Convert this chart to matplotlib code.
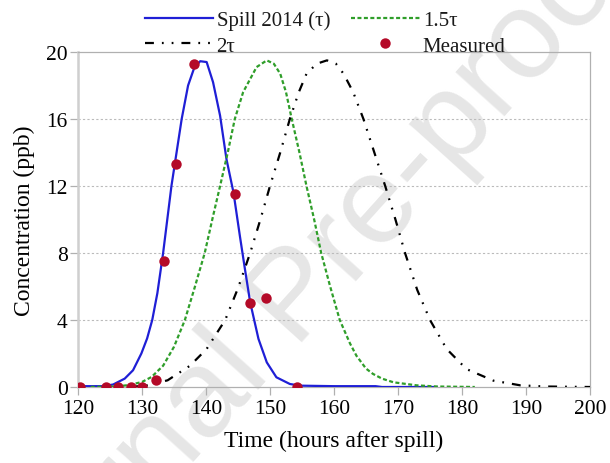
import matplotlib
matplotlib.use("Agg")
import matplotlib.pyplot as plt
from matplotlib.lines import Line2D

# ---- data ----
spill_t = [120, 124, 125.5, 127.3, 128.6, 129.9, 130.8, 131.6, 132.4, 133.3, 134.6, 135.4,
           136.2, 137.2, 138.2, 139.1, 140.1, 141.1, 142.2, 143.2, 144.3, 145.3, 146.1,
           146.9, 148.2, 149.5, 151.0, 153.1, 154.7, 160, 166.5, 167.5, 176]
spill_c = [0.05, 0.05, 0.15, 0.5, 1.0, 2.0, 2.9, 4.0, 5.6, 8.0, 12.0, 14.0,
           16.0, 18.0, 19.1, 19.45, 19.4, 18.2, 16.2, 13.6, 11.6, 9.0, 7.0,
           5.06, 2.87, 1.47, 0.58, 0.18, 0.08, 0.05, 0.05, 0.0, 0.0]

t15 = [122, 126, 128, 130, 131.5, 133.3, 135, 136.7, 138.2, 139.8, 141.1, 142.2, 143.4,
       144.5, 145.8, 147.9, 149.5, 150.6, 151.6, 152.5, 153.4, 154.6, 155.7, 156.9, 158.0,
       159.4, 160.9, 162.5, 163.5, 165, 166.1, 167.5, 169.3, 172.9, 176, 182]
c15 = [0, 0.03, 0.12, 0.3, 0.6, 1.27, 2.4, 4.0, 5.9, 8.0, 10.2, 12.0, 14.0,
       16.0, 17.6, 19.1, 19.5, 19.3, 18.7, 17.6, 16.0, 14.0, 12.0, 10.0, 8.0,
       6.0, 4.0, 2.6, 1.87, 1.1, 0.78, 0.5, 0.28, 0.1, 0.03, 0]

t2 = [128, 131, 134, 137.5, 140.1, 143.0, 145.0, 146.9, 148.5, 150.0, 151.6, 153.1, 154.5,
      155.7, 157.3, 158.9, 160.3, 161.5, 163, 164.6, 166.3, 168.0, 169.6, 171.1, 173.0,
      175.0, 177.6, 180.7, 184.9, 189.1, 193, 200]
c2 = [0, 0.1, 0.4, 1.27, 2.27, 4.0, 5.9, 8.0, 10.0, 12.0, 14.0, 16.0, 17.6,
      18.7, 19.3, 19.5, 19.3, 18.7, 17.6, 16.0, 14.0, 12.0, 10.0, 8.0, 5.8,
      4.0, 2.27, 1.07, 0.38, 0.1, 0.03, 0]

meas_t = [120.3, 124.4, 126.3, 128.3, 130.0, 132.2, 133.5, 135.3, 138.2, 144.6, 146.9, 149.4, 154.2]
meas_c = [0, 0, 0, 0, 0, 0.42, 7.5, 13.3, 19.3, 11.5, 5.0, 5.33, 0]

xticks = [120, 130, 140, 150, 160, 170, 180, 190, 200]
yticks = [0, 4, 8, 12, 16, 20]
labels = ["Spill 2014 (\u03c4)", "2\u03c4", "1.5\u03c4", "Measured"]

plt.rcParams['font.family'] = ['Liberation Serif', 'DejaVu Serif']
plt.rcParams['text.color'] = '#1a1a1a'

fig = plt.figure(figsize=(6.1, 4.64), dpi=100)
ax = fig.add_axes([78/610, 1 - 388/464, (590-78)/610, (388-53)/464])

# watermark
ax.text(0.487, 0.354, "Journal Pre-proof", transform=fig.transFigure, rotation=48,
        fontsize=90, family='Liberation Sans', color='#e6e6e6', ha='center', va='center',
        rotation_mode='anchor', clip_on=False, zorder=0.2)

blue = '#1f1fd6'
green = '#2f9e2a'
red = '#b40a28'

l1, = ax.plot(spill_t, spill_c, color=blue, lw=1.6, zorder=3)
l3, = ax.plot(t15, c15, color=green, lw=1.6, linestyle=(0, (1.8, 1.1)), zorder=3)
l2, = ax.plot(t2, c2, color='black', lw=1.6,
              linestyle=(0, (4.0, 3.6, 0.8, 3.6, 0.8, 3.6)), zorder=3)
m, = ax.plot(meas_t, meas_c, linestyle='none', marker='o', ms=7.5, color=red,
             markeredgewidth=0, zorder=4)

ax.set_xlim(120, 200)
ax.set_ylim(0, 20)
ax.set_xticks(xticks)
ax.set_yticks(yticks)
for y in yticks[1:-1]:
    ax.axhline(y, color='#bbbbbb', lw=0.8, linestyle=(0, (2, 2)), zorder=1)

for s in ['top', 'right', 'bottom']:
    ax.spines[s].set_color('#b0b0b0')
    ax.spines[s].set_linewidth(0.9)
ax.spines['left'].set_color('#cfcfcf')
ax.spines['left'].set_linewidth(1.8)

ax.tick_params(axis='both', which='major', labelsize=15.5, color='#b0b0b0',
               length=6, width=0.9, pad=1.5)
ax.tick_params(axis='x', pad=3)

ax.set_xlabel("Time (hours after spill)", fontsize=17, labelpad=8)
ax.set_ylabel("Concentration (ppb)", fontsize=17, labelpad=8)

fig.legend([l1, l2, l3, m], labels, ncol=2, loc='center',
           bbox_to_anchor=(0.533, 0.927), frameon=False, fontsize=15,
           handlelength=3.3, handletextpad=0.15, columnspacing=1.0,
           labelspacing=0.3, borderpad=0, borderaxespad=0)

fig.savefig("out.png", dpi=100)
